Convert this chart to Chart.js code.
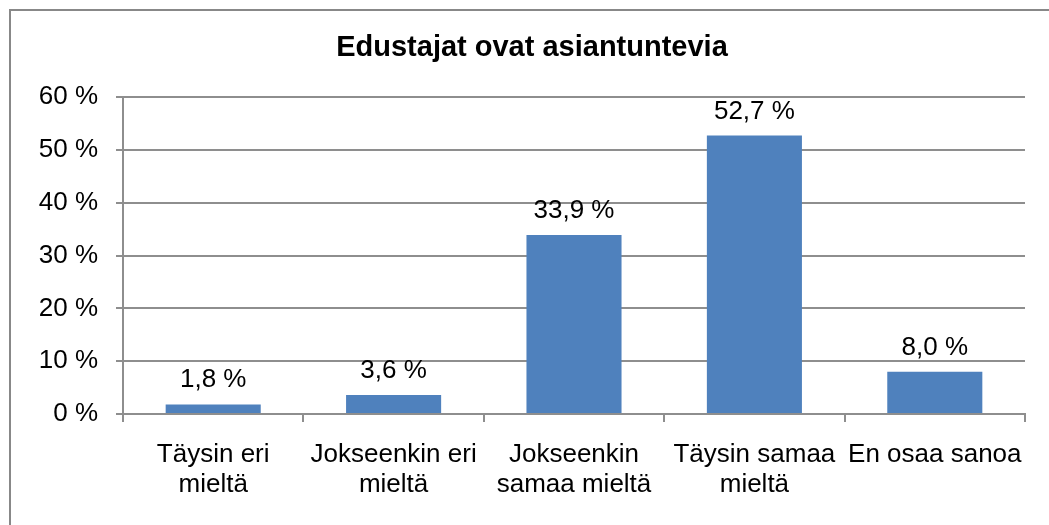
<!DOCTYPE html>
<html>
<head>
<meta charset="utf-8">
<script src="https://cdn.jsdelivr.net/npm/chart.js@4/dist/chart.umd.min.js"></script>
<style>
  body { margin: 0; background: #fff; }
  #wrap { width: 1049px; height: 525px; }
</style>
</head>
<body>
<div id="wrap"><canvas id="chart" width="1049" height="525"></canvas></div>
<script>
const chartTitle = "Edustajat ovat asiantuntevia";
const categories = [
  ["Täysin eri", "mieltä"],
  ["Jokseenkin eri", "mieltä"],
  ["Jokseenkin", "samaa mieltä"],
  ["Täysin samaa", "mieltä"],
  "En osaa sanoa"
];
const values = [1.8, 3.6, 33.9, 52.7, 8.0];
const yTicks = [0, 10, 20, 30, 40, 50, 60];

const FONT = '"Liberation Sans", Arial, sans-serif';
const GRID = "#8e8e8e";

// outer frame + title
const framePlugin = {
  id: "frame",
  beforeDraw(chart) {
    const ctx = chart.ctx;
    ctx.save();
    ctx.fillStyle = "#fff";
    ctx.fillRect(0, 0, chart.width, chart.height);
    ctx.strokeStyle = "#888";
    ctx.lineWidth = 2;
    ctx.strokeRect(10, 10, chart.width + 50, chart.height + 50);
    ctx.restore();
  },
  afterDraw(chart) {
    const ctx = chart.ctx;
    ctx.save();
    ctx.font = "bold 29px " + FONT;
    ctx.fillStyle = "#000";
    ctx.textAlign = "center";
    ctx.textBaseline = "alphabetic";
    ctx.fillText(chartTitle, 532, 56);
    ctx.restore();
  }
};

// value labels above the bars
const labelPlugin = {
  id: "barLabels",
  afterDatasetsDraw(chart) {
    const ctx = chart.ctx;
    const meta = chart.getDatasetMeta(0);
    ctx.save();
    ctx.font = "26px " + FONT;
    ctx.fillStyle = "#000";
    ctx.textAlign = "center";
    ctx.textBaseline = "alphabetic";
    meta.data.forEach((bar, i) => {
      const txt = values[i].toFixed(1).replace(".", ",") + " %";
      ctx.fillText(txt, bar.x, bar.y - 17);
    });
    ctx.restore();
  }
};

new Chart(document.getElementById("chart"), {
  type: "bar",
  data: {
    labels: categories,
    datasets: [{
      data: values,
      backgroundColor: "#4f81bd",
      borderWidth: 0,
      categoryPercentage: 1,
      barPercentage: 0.527
    }]
  },
  options: {
    responsive: false,
    animation: false,
    events: [],
    layout: { padding: { top: 97, right: 24, left: 0, bottom: 0 } },
    plugins: {
      legend: { display: false },
      title: { display: false },
      tooltip: { enabled: false }
    },
    scales: {
      x: {
        grid: {
          drawOnChartArea: false,
          drawTicks: true,
          tickLength: 8,
          color: GRID,
          lineWidth: 2
        },
        border: { color: GRID, width: 2 },
        ticks: {
          color: "#000",
          padding: 18,
          maxRotation: 0,
          autoSkip: false,
          font: { family: FONT, size: 26, lineHeight: 1.15 }
        },
        afterFit(scale) { scale.height = 111; }
      },
      y: {
        min: yTicks[0],
        max: yTicks[yTicks.length - 1],
        afterBuildTicks(scale) { scale.ticks = yTicks.map(v => ({ value: v })); },
        grid: { color: GRID, lineWidth: 2, tickLength: 7 },
        border: { color: GRID, width: 2 },
        ticks: {
          color: "#000",
          padding: 18,
          font: { family: FONT, size: 26 },
          callback: v => v + " %"
        },
        afterFit(scale) { scale.width = 123; }
      }
    }
  },
  plugins: [framePlugin, labelPlugin]
});
</script>
</body>
</html>
